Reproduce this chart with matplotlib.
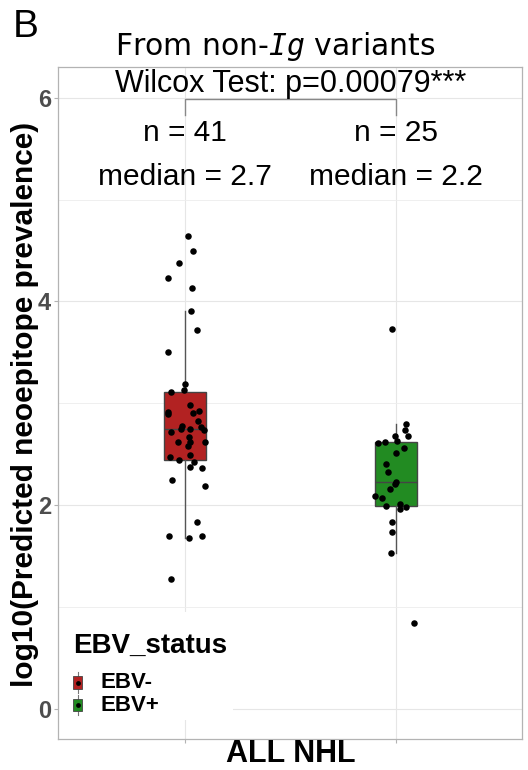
import matplotlib
matplotlib.use("Agg")
import matplotlib.pyplot as plt
from matplotlib.patches import Rectangle
from matplotlib.lines import Line2D
import numpy as np

plt.rcParams['mathtext.fontset'] = 'custom'
plt.rcParams['mathtext.it'] = 'DejaVu Sans Mono:italic'

# log10 neoepitope prevalence per sample, with horizontal jitter offsets
ebv_neg = [4.645, 4.494, 4.380, 4.232, 4.131, 3.905, 3.721, 3.502, 3.188, 3.129,
           3.109, 2.988, 2.916, 2.896, 2.909, 2.922, 2.831, 2.775, 2.746, 2.752,
           2.765, 2.733, 2.719, 2.670, 2.621, 2.624, 2.624, 2.579, 2.474, 2.490,
           2.444, 2.425, 2.372, 2.366, 2.251, 2.189, 1.839, 1.698, 1.681, 1.698,
           1.275]
ebv_neg_jit = [0.014, 0.041, -0.025, -0.080, 0.036, 0.028, 0.058, -0.080, 0.003, -0.001,
               -0.065, 0.027, -0.077, -0.080, 0.039, 0.066, 0.063, -0.013, -0.019, 0.025,
               0.077, 0.093, -0.063, 0.019, -0.032, 0.027, 0.098, 0.017, -0.069, 0.024,
               -0.028, 0.044, 0.027, 0.080, -0.060, 0.096, 0.058, -0.072, 0.022, 0.080,
               -0.066]
ebv_pos = [3.734, 2.795, 2.736, 2.680, 2.677, 2.631, 2.608, 2.618, 2.565, 2.516,
           2.402, 2.326, 2.228, 2.205, 2.159, 2.091, 2.068, 1.992, 2.015, 1.963,
           1.983, 1.832, 1.737, 1.531, 0.843]
ebv_pos_jit = [-0.017, 0.047, 0.044, 0.057, -0.005, 0.005, -0.086, -0.050, 0.039, 0.000,
               -0.044, -0.038, 0.003, -0.005, -0.025, -0.100, -0.065, -0.046, 0.020, 0.020,
               0.047, -0.016, -0.019, -0.020, 0.085]

groups = ["EBV-", "EBV+"]
colors = ["#B22222", "#228B22"]
p_value = "0.00079"
medians_txt = ["2.7", "2.2"]

fig = plt.figure(figsize=(5.28, 7.7), dpi=100)
ax = fig.add_axes([58/528, 1 - 739.3/770, 464.3/528, 672/770])

data = [ebv_neg, ebv_pos]
jits = [ebv_neg_jit, ebv_pos_jit]
pos = [1, 2]

bp = ax.boxplot(data, positions=pos, widths=0.2, patch_artist=True, showfliers=False,
                whis=1.5, showcaps=False,
                medianprops=dict(color="#444444", lw=1.0),
                whiskerprops=dict(color="#555555", lw=1.0),
                boxprops=dict(edgecolor="#444444", lw=1.0), zorder=2)
for patch, c in zip(bp['boxes'], colors):
    patch.set_facecolor(c)

for p, vals, jit in zip(pos, data, jits):
    ax.scatter(p + np.array(jit), vals, s=22, color="black", zorder=3, linewidths=0)

ax.set_xlim(0.4, 2.6)
ax.set_ylim(-0.3, 6.3)
ax.set_yticks([0, 2, 4, 6])
ax.set_yticks([1, 3, 5], minor=True)
ax.set_xticks(pos)
ax.set_xticklabels(["", ""])
ax.grid(which="major", color="#E6E6E6", lw=0.8, zorder=0)
ax.grid(which="minor", axis="y", color="#EDEDED", lw=0.6, zorder=0)
ax.set_axisbelow(True)
for s in ax.spines.values():
    s.set_color("#B3B3B3")
    s.set_linewidth(0.9)
ax.tick_params(axis="both", which="major", length=3, width=0.8, color="#B3B3B3", pad=2)
ax.tick_params(axis="y", which="minor", length=0)
for lab in ax.get_yticklabels():
    lab.set_fontweight("bold")
    lab.set_fontsize(17)
    lab.set_color("#4D4D4D")
    lab.set_family("Liberation Sans")

# significance bracket and annotations
ax.plot([1, 1, 2, 2], [5.83, 5.99, 5.99, 5.83], color="#888888", lw=1.0, zorder=2)
ax.text(1.5, 6.056, "Wilcox Test: p=" + p_value + "***", ha="center", va="baseline",
        fontsize=22, family="Liberation Sans")
for p, vals, med in zip(pos, data, medians_txt):
    ax.text(p, 5.58, "n = " + str(len(vals)), ha="center", va="baseline",
            fontsize=21.5, family="Liberation Sans")
    ax.text(p, 5.147, "median = " + med, ha="center", va="baseline",
            fontsize=21.5, family="Liberation Sans")

# legend drawn inside the panel
ax.add_patch(Rectangle((0.002, 0.029), 0.375, 0.16, transform=ax.transAxes,
                       facecolor="white", edgecolor="none", zorder=1.5))
ax.text(0.0323, 0.1284, "EBV_status", transform=ax.transAxes, ha="left", va="baseline",
        fontsize=20, fontweight="bold", family="Liberation Sans", zorder=4)
for ky, g, c in zip([0.0845, 0.051], groups, colors):
    kx = 0.042
    ax.add_line(Line2D([kx, kx], [ky - 0.015, ky + 0.015], transform=ax.transAxes,
                       color="#777777", lw=0.8, zorder=4))
    ax.add_patch(Rectangle((kx - 0.0105, ky - 0.0095), 0.021, 0.019, transform=ax.transAxes,
                           facecolor=c, edgecolor="#444444", lw=0.6, zorder=5))
    ax.scatter([kx], [ky], transform=ax.transAxes, s=12, color="black", zorder=6, linewidths=0)
    ax.text(0.0905, ky, g, transform=ax.transAxes, ha="left", va="center",
            fontsize=16, fontweight="bold", family="Liberation Sans", zorder=4)

fig.text(25/528, 1 - 404/770, "log10(Predicted neoepitope prevalence)", rotation=90,
         ha="center", va="center", fontsize=21.5, fontweight="bold", family="Liberation Sans")
fig.text(291/528, 1/770, "ALL NHL", ha="center", va="bottom",
         fontsize=22, fontweight="bold", family="Liberation Sans")
fig.text(275.5/528, 1 - 55/770, r"From non-$\mathit{Ig}$ variants", ha="center", va="baseline",
         fontsize=21.5, family="DejaVu Sans")
fig.text(13/528, 1 - 37/770, "B", ha="left", va="baseline", fontsize=28,
         family="Liberation Sans")

fig.savefig("out.png", dpi=100)
